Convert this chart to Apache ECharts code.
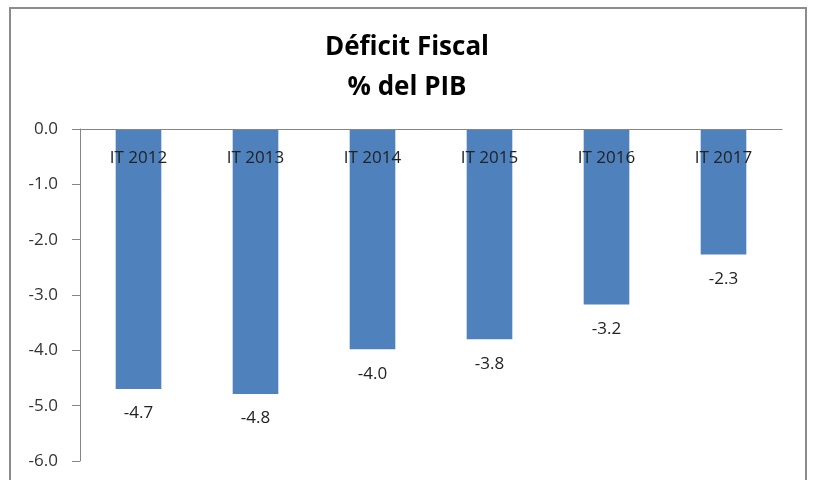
<!DOCTYPE html>
<html>
<head>
<meta charset="utf-8">
<script src="https://cdn.jsdelivr.net/npm/echarts@6/dist/echarts.min.js"></script>
<style>
  html, body { margin: 0; padding: 0; background: #fff; }
  #chart { width: 814px; height: 480px; }
</style>
</head>
<body>
<div id="chart"></div>
<script>
// datos
var periodos = ['IT 2012', 'IT 2013', 'IT 2014', 'IT 2015', 'IT 2016', 'IT 2017'];
var deficit = [-4.70, -4.79, -3.98, -3.80, -3.17, -2.27];
var titulo = 'Déficit Fiscal\n% del PIB';

var chart = echarts.init(document.getElementById('chart'));
var fuente = 'Open Sans';

chart.setOption({
  animation: false,
  textStyle: { fontFamily: fuente },
  title: {
    text: titulo,
    left: 'center',
    top: 23,
    textStyle: {
      fontFamily: fuente,
      fontSize: 26,
      fontWeight: 'bold',
      color: '#000',
      lineHeight: 40
    }
  },
  graphic: [{
    type: 'rect',
    shape: { x: 10, y: 8, width: 796, height: 500 },
    style: { fill: null, stroke: '#8c8c8c', lineWidth: 2 },
    silent: true
  }],
  grid: { left: 80, right: 32, top: 129, bottom: 19, outerBoundsMode: 'none' },
  xAxis: {
    type: 'category',
    data: periodos,
    position: 'top',
    z: 10,
    axisLine: { lineStyle: { color: '#868686', width: 1 } },
    axisTick: { inside: true, length: 6, lineStyle: { color: '#868686' } },
    axisLabel: { inside: true, fontSize: 17, color: '#222', margin: 21 }
  },
  yAxis: {
    type: 'value',
    min: -6,
    max: 0,
    interval: 1,
    splitLine: { show: false },
    axisLine: { show: true, lineStyle: { color: '#868686', width: 1 } },
    axisTick: { show: true, length: 8, lineStyle: { color: '#868686' } },
    axisLabel: {
      fontSize: 17,
      color: '#333',
      margin: 22,
      formatter: function (v) { return v.toFixed(1); }
    }
  },
  series: [{
    type: 'bar',
    data: deficit,
    barWidth: '39%',
    itemStyle: { color: '#4F81BD' },
    label: {
      show: true,
      position: 'bottom',
      distance: 16,
      fontSize: 17,
      color: '#222',
      formatter: function (p) { return p.value.toFixed(1); }
    }
  }]
});
</script>
</body>
</html>
